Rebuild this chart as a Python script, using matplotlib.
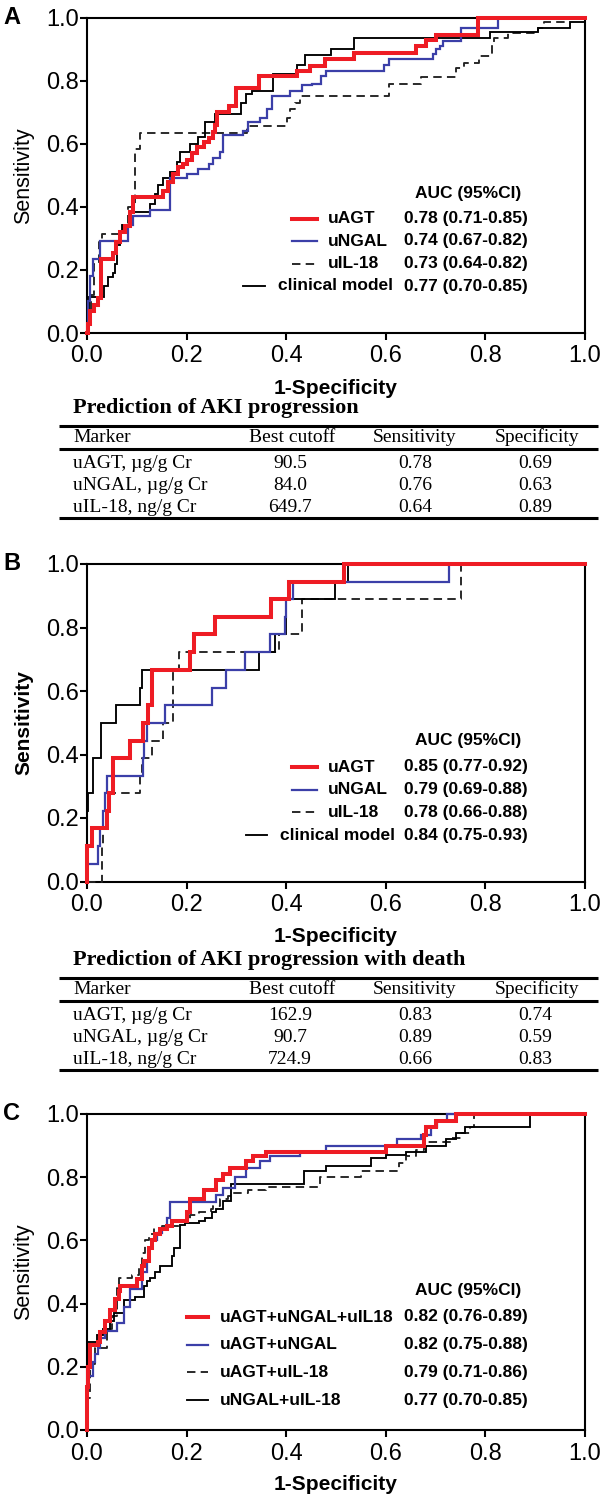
import matplotlib
matplotlib.use('Agg')
import matplotlib.pyplot as plt

plt.rcParams['font.family'] = ['Liberation Sans', 'DejaVu Sans']

# ---------------- data ----------------
# Panel A: prediction of AKI progression (ROC points: 1-specificity, sensitivity)
a_uagt_fpr = [0, 0.003, 0.006, 0.015, 0.022, 0.029, 0.052, 0.059, 0.066, 0.076, 0.086, 0.093, 0.153, 0.163, 0.173,
              0.183, 0.193, 0.2, 0.21, 0.22, 0.234, 0.244, 0.254, 0.258, 0.261, 0.285, 0.30, 0.345, 0.421, 0.448,
              0.478, 0.536, 0.66, 0.68, 0.70, 0.785, 1.0]
a_uagt_tpr = [0, 0.03, 0.07, 0.09, 0.11, 0.235, 0.255, 0.29, 0.32, 0.34, 0.385, 0.432, 0.45, 0.48, 0.505,
              0.527, 0.537, 0.548, 0.569, 0.59, 0.606, 0.617, 0.638, 0.66, 0.70, 0.72, 0.775, 0.815, 0.83, 0.845,
              0.87, 0.888, 0.909, 0.93, 0.945, 1.0, 1.0]
a_ungal_fpr = [0, 0.003, 0.006, 0.012, 0.027, 0.083, 0.093, 0.126, 0.166, 0.2, 0.223, 0.244, 0.254, 0.267, 0.274,
               0.314, 0.324, 0.348, 0.361, 0.371, 0.408, 0.432, 0.452, 0.469, 0.479, 0.597, 0.607, 0.694, 0.70,
               0.708, 0.715, 0.751, 0.825, 1.0]
a_ungal_tpr = [0, 0.10, 0.18, 0.235, 0.293, 0.343, 0.37, 0.39, 0.49, 0.505, 0.52, 0.537, 0.555, 0.574, 0.626,
               0.64, 0.668, 0.68, 0.71, 0.75, 0.767, 0.785, 0.79, 0.815, 0.83, 0.851, 0.867, 0.883, 0.90,
               0.91, 0.925, 0.966, 1.0, 1.0]
a_uil18_fpr = [0, 0.005, 0.009, 0.015, 0.025, 0.031, 0.072, 0.083, 0.096, 0.106, 0.321, 0.401, 0.408, 0.418,
               0.428, 0.607, 0.67, 0.741, 0.758, 0.787, 0.814, 0.817, 0.845, 0.905, 0.917, 0.96, 1.0]
a_uil18_tpr = [0, 0.06, 0.12, 0.22, 0.29, 0.314, 0.343, 0.40, 0.584, 0.635, 0.655, 0.68, 0.71, 0.73,
               0.75, 0.79, 0.81, 0.841, 0.855, 0.877, 0.914, 0.935, 0.95, 0.966, 0.985, 1.0, 1.0]
a_clin_fpr = [0, 0.005, 0.034, 0.042, 0.052, 0.056, 0.06, 0.066, 0.07, 0.086, 0.126, 0.136, 0.143, 0.153, 0.166,
              0.18, 0.186, 0.206, 0.223, 0.237, 0.257, 0.31, 0.32, 0.331, 0.374, 0.421, 0.438, 0.49, 0.537,
              0.81, 0.905, 0.97, 1.0]
a_clin_tpr = [0, 0.115, 0.15, 0.176, 0.19, 0.22, 0.28, 0.322, 0.343, 0.385, 0.41, 0.44, 0.47, 0.49, 0.51,
              0.542, 0.574, 0.60, 0.62, 0.668, 0.694, 0.73, 0.757, 0.767, 0.82, 0.85, 0.88, 0.90, 0.935,
              0.955, 0.968, 0.985, 1.0]

# Panel B: prediction of AKI progression with death
b_uagt_fpr = [0, 0, 0.01, 0.04, 0.045, 0.052, 0.087, 0.113, 0.122, 0.13, 0.207, 0.215, 0.258, 0.37, 0.405, 0.516, 1.0]
b_uagt_tpr = [0, 0.111, 0.167, 0.222, 0.278, 0.389, 0.444, 0.5, 0.556, 0.667, 0.722, 0.778, 0.833, 0.889, 0.944, 1.0, 1.0]
b_ungal_fpr = [0, 0, 0.023, 0.027, 0.033, 0.037, 0.04, 0.113, 0.115, 0.12, 0.157, 0.25, 0.28, 0.317, 0.368, 0.397,
               0.399, 0.413, 0.727, 1.0]
b_ungal_tpr = [0, 0.056, 0.111, 0.167, 0.222, 0.278, 0.333, 0.389, 0.444, 0.5, 0.556, 0.611, 0.667, 0.722, 0.778, 0.833,
               0.889, 0.944, 1.0, 1.0]
b_uil18_fpr = [0, 0.03, 0.033, 0.036, 0.106, 0.11, 0.13, 0.153, 0.172, 0.173, 0.185, 0.385, 0.432, 0.75, 1.0]
b_uil18_tpr = [0, 0.111, 0.222, 0.278, 0.333, 0.389, 0.444, 0.5, 0.556, 0.667, 0.722, 0.778, 0.889, 1.0, 1.0]
b_clin_fpr = [0, 0, 0.003, 0.013, 0.029, 0.058, 0.106, 0.11, 0.345, 0.378, 0.40, 0.497, 0.525, 1.0]
b_clin_tpr = [0, 0.222, 0.278, 0.389, 0.5, 0.556, 0.611, 0.667, 0.722, 0.778, 0.889, 0.944, 1.0, 1.0]

# Panel C: marker combinations
c_all_fpr = [0, 0, 0.003, 0.007, 0.023, 0.027, 0.037, 0.047, 0.057, 0.064, 0.067, 0.1, 0.11, 0.114, 0.124, 0.13,
             0.137, 0.147, 0.16, 0.17, 0.2, 0.207, 0.234, 0.26, 0.274, 0.288, 0.32, 0.334, 0.36, 0.6, 0.677,
             0.68, 0.70, 0.74, 1.0]
c_all_tpr = [0, 0.135, 0.2, 0.27, 0.28, 0.31, 0.345, 0.38, 0.414, 0.44, 0.455, 0.477, 0.52, 0.535, 0.577, 0.6,
             0.62, 0.635, 0.645, 0.66, 0.69, 0.73, 0.76, 0.79, 0.81, 0.83, 0.85, 0.866, 0.88, 0.90, 0.935,
             0.96, 0.977, 1.0, 1.0]
c_agt_ngal_fpr = [0, 0, 0.003, 0.013, 0.017, 0.023, 0.027, 0.037, 0.06, 0.074, 0.087, 0.11, 0.12, 0.124, 0.131,
                  0.14, 0.15, 0.16, 0.167, 0.26, 0.274, 0.297, 0.32, 0.348, 0.368, 0.428, 0.48, 0.623, 0.67,
                  0.69, 0.703, 0.723, 1.0]
c_agt_ngal_tpr = [0, 0.13, 0.17, 0.214, 0.24, 0.26, 0.29, 0.313, 0.34, 0.39, 0.445, 0.5, 0.535, 0.577, 0.6,
                  0.625, 0.64, 0.67, 0.72, 0.745, 0.766, 0.80, 0.83, 0.85, 0.866, 0.88, 0.90, 0.92, 0.935,
                  0.96, 0.977, 1.0, 1.0]
c_agt_il18_fpr = [0, 0.003, 0.007, 0.017, 0.04, 0.047, 0.05, 0.06, 0.064, 0.09, 0.104, 0.11, 0.117, 0.124, 0.134,
                  0.15, 0.187, 0.207, 0.224, 0.248, 0.254, 0.268, 0.284, 0.294, 0.324, 0.36, 0.467, 0.55, 0.627,
                  0.64, 0.66, 0.677, 0.73, 0.75, 0.77, 0.777, 1.0]
c_agt_il18_tpr = [0, 0.10, 0.21, 0.26, 0.31, 0.32, 0.36, 0.45, 0.48, 0.49, 0.52, 0.56, 0.60, 0.62, 0.64,
                  0.645, 0.66, 0.68, 0.69, 0.70, 0.71, 0.73, 0.74, 0.75, 0.76, 0.77, 0.80, 0.82, 0.845,
                  0.866, 0.886, 0.91, 0.925, 0.94, 0.96, 1.0, 1.0]
c_ngal_il18_fpr = [0, 0, 0.02, 0.033, 0.047, 0.054, 0.074, 0.075, 0.097, 0.114, 0.12, 0.127, 0.137, 0.147, 0.17,
                   0.174, 0.187, 0.197, 0.224, 0.237, 0.25, 0.26, 0.274, 0.29, 0.436, 0.48, 0.57, 0.6, 0.64,
                   0.68, 0.72, 0.74, 0.76, 0.89, 1.0]
c_ngal_il18_tpr = [0, 0.28, 0.30, 0.32, 0.345, 0.37, 0.39, 0.41, 0.42, 0.455, 0.47, 0.48, 0.5, 0.52, 0.55,
                   0.577, 0.65, 0.655, 0.66, 0.67, 0.69, 0.70, 0.725, 0.777, 0.82, 0.835, 0.86, 0.87, 0.88,
                   0.90, 0.92, 0.94, 0.96, 1.0, 1.0]

labels_ab = ['uAGT', 'uNGAL', 'uIL-18', 'clinical model']
auc_a = ['0.78 (0.71-0.85)', '0.74 (0.67-0.82)', '0.73 (0.64-0.82)', '0.77 (0.70-0.85)']
auc_b = ['0.85 (0.77-0.92)', '0.79 (0.69-0.88)', '0.78 (0.66-0.88)', '0.84 (0.75-0.93)']
labels_c = ['uAGT+uNGAL+uIL18', 'uAGT+uNGAL', 'uAGT+uIL-18', 'uNGAL+uIL-18']
auc_c = ['0.82 (0.76-0.89)', '0.82 (0.75-0.88)', '0.79 (0.71-0.86)', '0.77 (0.70-0.85)']

ticks = [0.0, 0.2, 0.4, 0.6, 0.8, 1.0]
tick_labels = ['0.0', '0.2', '0.4', '0.6', '0.8', '1.0']

table_header = ['Marker', 'Best cutoff', 'Sensitivity', 'Specificity']
table_markers = ['uAGT, \u00b5g/g Cr', 'uNGAL, \u00b5g/g Cr', 'uIL-18, ng/g Cr']
table_a_title = 'Prediction of AKI progression'
table_a_cutoff = ['90.5', '84.0', '649.7']
table_a_sens = ['0.78', '0.76', '0.64']
table_a_spec = ['0.69', '0.63', '0.89']
table_b_title = 'Prediction of AKI progression with death'
table_b_cutoff = ['162.9', '90.7', '724.9']
table_b_sens = ['0.83', '0.89', '0.66']
table_b_spec = ['0.74', '0.59', '0.83']

# ---------------- styling ----------------
RED = '#ee1c24'
BLUE = '#3b3fa8'
styles = [
    dict(color=RED, lw=2.9, ls='-'),
    dict(color=BLUE, lw=1.6, ls='-'),
    dict(color='#222222', lw=1.35, ls=(0, (4.5, 2.8))),
    dict(color='black', lw=1.35, ls='-'),
]

W, H = 604, 1500
fig = plt.figure(figsize=(W / 100, H / 100), dpi=100)

ov = fig.add_axes([0, 0, 1, 1], zorder=10)
ov.set_xlim(0, W)
ov.set_ylim(H, 0)
ov.axis('off')
ov.patch.set_alpha(0)


def make_axes(top, bottom, left=87, right=585):
    return fig.add_axes([left / W, 1 - bottom / H, (right - left) / W, (bottom - top) / H])


def draw_panel(ax, curves, letter, top, bottom, ylabel_bold):
    order = [2, 3, 1, 0]
    for i in order:
        x, y = curves[i]
        st = styles[i]
        ax.plot(x, y, drawstyle='steps-post', color=st['color'], lw=st['lw'], ls=st['ls'],
                solid_joinstyle='miter', clip_on=False, zorder=3 + (i == 0))
    ax.set_xlim(0, 1)
    ax.set_ylim(0, 1)
    ax.set_xticks(ticks)
    ax.set_xticklabels(tick_labels)
    ax.set_yticks(ticks)
    ax.set_yticklabels(tick_labels)
    for s in ax.spines.values():
        s.set_linewidth(1.5)
    ax.tick_params(direction='out', length=5, width=1.5, labelsize=17, top=False, right=False)
    ax.tick_params(axis='x', pad=4)
    ax.tick_params(axis='y', pad=1)
    h = bottom - top
    ax.set_xlabel('1-Specificity', fontsize=15, fontweight='bold', va='center')
    ax.xaxis.set_label_coords(0.5, -(55 / h))
    ax.set_ylabel('Sensitivity', fontsize=15.5 if not ylabel_bold else 15,
                  fontweight='bold' if ylabel_bold else 'normal', va='center')
    ax.yaxis.set_label_coords(-(63 / 498), 0.5)
    ov.text(12, top + 0, letter, fontsize=17, fontweight='bold', ha='center', va='center')


def draw_legend(top, labels, aucs, handle_x, label_x, row_dy, first_dy, clin_handle=None, clin_label=None):
    ov.text(468, top + 176, 'AUC (95%CI)', fontsize=12.5, fontweight='bold', ha='center', va='center')
    for i in range(4):
        yy = top + first_dy + i * row_dy
        st = styles[i]
        hx = handle_x
        lx = label_x
        if i == 3 and clin_handle is not None:
            hx = clin_handle
            lx = clin_label
        ov.plot(hx, [yy, yy], color=st['color'], lw=st['lw'], ls=st['ls'])
        ov.text(lx, yy, labels[i], fontsize=12.5, fontweight='bold', ha='left', va='center')
        ov.text(404, yy, aucs[i], fontsize=12.5, fontweight='bold', ha='left', va='center')


def draw_table(base, title, cutoff, sens, spec):
    serif = ['Liberation Serif', 'DejaVu Serif']
    ov.text(73, base, title, fontsize=16, fontweight='bold', family=serif, ha='left', va='center')
    ov.plot([59, 598], [base + 18, base + 18], color='black', lw=2.2, solid_capstyle='butt')
    hy = base + 29
    cols = [292, 415, 537]
    ov.text(73, hy, table_header[0], fontsize=14, family=serif, ha='left', va='center')
    for cx, t in zip(cols, table_header[1:]):
        ov.text(cx, hy, t, fontsize=14, family=serif, ha='center', va='center')
    ov.plot([59, 598], [base + 41, base + 41], color='black', lw=2.2, solid_capstyle='butt')
    for r in range(3):
        ry = base + 55 + r * 22.5
        ov.text(73, ry, table_markers[r], fontsize=14, family=serif, ha='left', va='center')
        ov.text(cols[0] - 2, ry, cutoff[r], fontsize=14, family=serif, ha='center', va='center')
        ov.text(cols[1], ry, sens[r], fontsize=14, family=serif, ha='center', va='center')
        ov.text(cols[2] - 2, ry, spec[r], fontsize=14, family=serif, ha='center', va='center')
    ov.plot([59, 598], [base + 110, base + 110], color='black', lw=2.2, solid_capstyle='butt')


# Panel A
A_top, A_bot = 17.5, 333
axA = make_axes(A_top, A_bot)
draw_panel(axA, [(a_uagt_fpr, a_uagt_tpr), (a_ungal_fpr, a_ungal_tpr), (a_uil18_fpr, a_uil18_tpr),
                 (a_clin_fpr, a_clin_tpr)], 'A', A_top, A_bot, False)
draw_legend(A_top, labels_ab, aucs=auc_a, handle_x=[292, 317], label_x=328, row_dy=22.5, first_dy=201,
            clin_handle=[243, 265], clin_label=278)
draw_table(408, table_a_title, table_a_cutoff, table_a_sens, table_a_spec)

# Panel B
B_top, B_bot = 564, 881.5
axB = make_axes(B_top, B_bot)
draw_panel(axB, [(b_uagt_fpr, b_uagt_tpr), (b_ungal_fpr, b_ungal_tpr), (b_uil18_fpr, b_uil18_tpr),
                 (b_clin_fpr, b_clin_tpr)], 'B', B_top, B_bot, True)
draw_legend(B_top, labels_ab, aucs=auc_b, handle_x=[292, 317], label_x=328, row_dy=22.7, first_dy=203,
            clin_handle=[246, 267], clin_label=280)
draw_table(960, table_b_title, table_b_cutoff, table_b_sens, table_b_spec)

# Panel C
C_top, C_bot = 1114, 1430
axC = make_axes(C_top, C_bot)
draw_panel(axC, [(c_all_fpr, c_all_tpr), (c_agt_ngal_fpr, c_agt_ngal_tpr), (c_agt_il18_fpr, c_agt_il18_tpr),
                 (c_ngal_il18_fpr, c_ngal_il18_tpr)], 'C', C_top, C_bot, False)
draw_legend(C_top, labels_c, aucs=auc_c, handle_x=[187, 208], label_x=220, row_dy=27.7, first_dy=203)

fig.savefig('out.png', dpi=100)
